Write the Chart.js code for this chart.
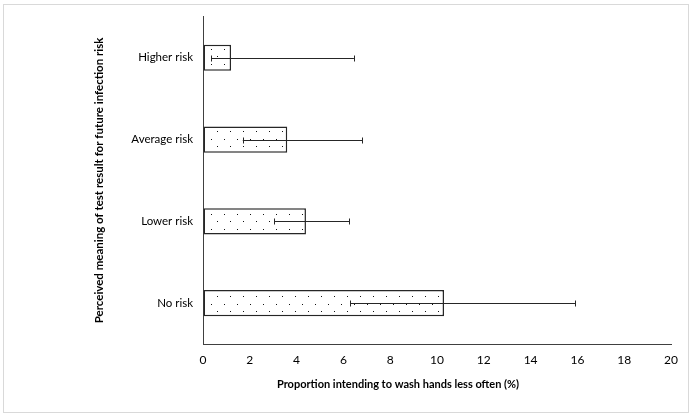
<!DOCTYPE html>
<html>
<head>
<meta charset="utf-8">
<script src="https://cdn.jsdelivr.net/npm/chart.js@4.4.1/dist/chart.umd.min.js"></script>
<style>
  html, body { margin: 0; padding: 0; background: #fff; }
  #wrap { position: relative; width: 692px; height: 417px; }
</style>
</head>
<body>
<div id="wrap"><canvas id="c" width="692" height="417"></canvas></div>
<script>
const categories = ['Higher risk', 'Average risk', 'Lower risk', 'No risk'];
const proportions = [1.2, 3.6, 4.4, 10.3];
const ciLow = [0.35, 1.7, 3.05, 6.3];
const ciHigh = [6.45, 6.8, 6.25, 15.9];
const xTitle = 'Proportion intending to wash hands less often (%)';
const yTitle = 'Perceived meaning of test result for future infection risk';
const xMin = 0, xMax = 20, xStep = 2;

const FONT = 'Lato';

function makeDotPattern() {
  const p = document.createElement('canvas');
  p.width = 13; p.height = 15;
  const g = p.getContext('2d');
  g.fillStyle = '#ffffff';
  g.fillRect(0, 0, 13, 15);
  g.fillStyle = '#111111';
  g.fillRect(3, 4, 1, 1);
  g.fillRect(9, 11, 1, 1);
  return document.getElementById('c').getContext('2d').createPattern(p, 'repeat');
}

const framePlugin = {
  id: 'frame',
  beforeDraw(chart) {
    const ctx = chart.ctx;
    ctx.save();
    ctx.fillStyle = '#ffffff';
    ctx.fillRect(0, 0, chart.width, chart.height);
    ctx.strokeStyle = '#d9d9d9';
    ctx.lineWidth = 1;
    ctx.strokeRect(3.5, 4.5, 685, 408);
    ctx.restore();
  }
};

const errorBarPlugin = {
  id: 'errorBars',
  afterDatasetsDraw(chart) {
    const ctx = chart.ctx;
    const xs = chart.scales.x;
    const meta = chart.getDatasetMeta(0);
    ctx.save();
    ctx.strokeStyle = '#262626';
    ctx.lineWidth = 1;
    meta.data.forEach((bar, i) => {
      const y = Math.round(bar.y) + 0.5;
      const x1 = xs.getPixelForValue(ciLow[i]);
      const x2 = xs.getPixelForValue(ciHigh[i]);
      ctx.beginPath();
      ctx.moveTo(x1, y); ctx.lineTo(x2, y);
      ctx.moveTo(Math.round(x1) + 0.5, y - 3); ctx.lineTo(Math.round(x1) + 0.5, y + 3);
      ctx.moveTo(Math.round(x2) + 0.5, y - 3); ctx.lineTo(Math.round(x2) + 0.5, y + 3);
      ctx.stroke();
    });
    ctx.restore();
  }
};

const xTitlePlugin = {
  id: 'xTitle',
  afterDraw(chart) {
    const ca = chart.chartArea;
    const ctx = chart.ctx;
    ctx.save();
    ctx.font = 'bold 11px ' + FONT;
    ctx.fillStyle = '#000000';
    ctx.textAlign = 'center';
    ctx.textBaseline = 'middle';
    ctx.fillText(xTitle, ca.left + 0.4167 * (ca.right - ca.left), ca.bottom + 40);
    ctx.restore();
  }
};

new Chart(document.getElementById('c'), {
  type: 'bar',
  data: {
    labels: categories,
    datasets: [{
      data: proportions,
      backgroundColor: makeDotPattern(),
      borderColor: '#262626',
      borderWidth: 1.5,
      borderSkipped: false,
      barPercentage: 0.32,
      categoryPercentage: 1.0
    }]
  },
  options: {
    indexAxis: 'y',
    responsive: false,
    animation: false,
    devicePixelRatio: 1,
    layout: { padding: { top: 16, right: 21, left: 0, bottom: 0 } },
    plugins: { legend: { display: false }, tooltip: { enabled: false } },
    scales: {
      x: {
        min: xMin, max: xMax,
        ticks: { stepSize: xStep, color: '#000', font: { family: FONT, size: 12 }, padding: 9 },
        grid: { color: 'transparent', drawTicks: false },
        border: { display: true, color: '#404040', width: 1 },
        afterFit(scale) { scale.height = 73; }
      },
      y: {
        ticks: { color: '#000', font: { family: FONT, size: 11.5 }, padding: 10 },
        grid: { color: 'transparent', drawTicks: false },
        border: { display: true, color: '#404040', width: 1 },
        title: {
          display: true, text: yTitle, color: '#000',
          font: { family: FONT, size: 11.5, weight: 'bold' },
          padding: { top: 92, bottom: 0 }
        },
        afterFit(scale) { scale.width = 203; }
      }
    }
  },
  plugins: [framePlugin, errorBarPlugin, xTitlePlugin]
});
</script>
</body>
</html>
